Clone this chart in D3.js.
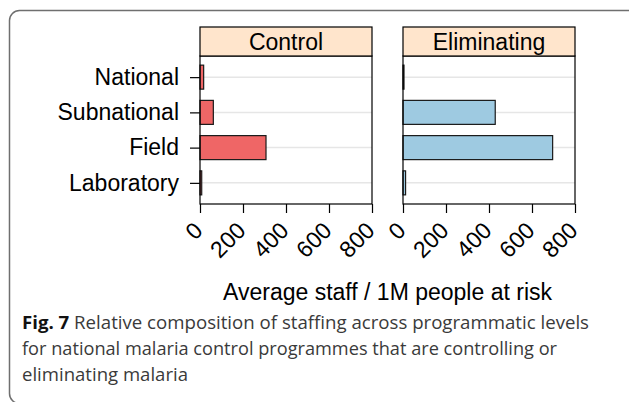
<!DOCTYPE html>
<html>
<head>
<meta charset="utf-8">
<script src="https://cdn.jsdelivr.net/npm/d3@7"></script>
<style>
  body { margin: 0; background: #fff; }
  svg { display: block; }
</style>
</head>
<body>
<script>
var width = 629;
var height = 402;

// data
var panels = ['Control', 'Eliminating'];
var levels = ['National', 'Subnational', 'Field', 'Laboratory'];
var controlValues = [17, 62, 307, 8];
var eliminatingValues = [3, 429, 696, 12];
var xTicks = [0, 200, 400, 600, 800];
var panelColors = ['#ef6666', '#9ecae1'];
var axisTitle = 'Average staff / 1M people at risk';
var captionBold = 'Fig. 7';
var captionLines = [
  'Relative composition of staffing across programmatic levels',
  'for national malaria control programmes that are controlling or',
  'eliminating malaria'
];

var seriesByPanel = [controlValues, eliminatingValues];

var stripTop = 27, stripBottom = 56, panelBottom = 204;
var font = 'Liberation Sans, Arial, sans-serif';

var svg = d3.select('body').append('svg')
  .attr('width', width)
  .attr('height', height);

// frame round the figure
svg.append('rect')
  .attr('x', 9.5).attr('y', 10.5)
  .attr('width', 700).attr('height', 393)
  .attr('rx', 10).attr('ry', 10)
  .attr('fill', 'none')
  .attr('stroke', '#6f6f6f')
  .attr('stroke-width', 1.5);

var panelScale = d3.scaleBand()
  .domain(panels)
  .range([200, 575])
  .paddingInner(0.1527)
  .paddingOuter(0);

var y = d3.scalePoint()
  .domain(levels)
  .range([stripBottom, panelBottom])
  .padding(0.6);

var barH = 24;

panels.forEach(function(name, p) {
  var x0 = panelScale(name);
  var pw = panelScale.bandwidth();
  var x = d3.scaleLinear().domain([0, 800]).range([x0, x0 + pw]);
  var values = seriesByPanel[p];
  var g = svg.append('g').attr('class', 'panel');

  // grid lines
  g.selectAll('line.grid')
    .data(levels)
    .enter().append('line')
    .attr('class', 'grid')
    .attr('x1', x0).attr('x2', x0 + pw)
    .attr('y1', function(d) { return y(d); })
    .attr('y2', function(d) { return y(d); })
    .attr('stroke', '#e6e6e6')
    .attr('stroke-width', 1.5);

  // bars
  g.selectAll('rect.bar')
    .data(values)
    .enter().append('rect')
    .attr('class', 'bar')
    .attr('x', x(0))
    .attr('y', function(d, i) { return y(levels[i]) - barH / 2; })
    .attr('width', function(d) { return Math.max(x(d) - x(0), 1); })
    .attr('height', barH)
    .attr('fill', panelColors[p])
    .attr('stroke', '#1a1a1a')
    .attr('stroke-width', 1.2);

  // panel box
  g.append('rect')
    .attr('x', x0).attr('y', stripBottom)
    .attr('width', pw).attr('height', panelBottom - stripBottom)
    .attr('fill', 'none')
    .attr('stroke', '#000')
    .attr('stroke-width', 1.2);

  // strip
  g.append('rect')
    .attr('x', x0).attr('y', stripTop)
    .attr('width', pw).attr('height', stripBottom - stripTop)
    .attr('fill', '#ffe5cc')
    .attr('stroke', '#000')
    .attr('stroke-width', 1.2);
  g.append('text')
    .attr('x', x0 + pw / 2)
    .attr('y', stripBottom - 6)
    .attr('text-anchor', 'middle')
    .attr('font-family', font)
    .attr('font-size', '23px')
    .attr('fill', '#000')
    .text(name);

  // bottom axis
  var xAxis = d3.axisBottom(x).tickValues(xTicks).tickSize(9).tickFormat('');
  var ax = g.append('g')
    .attr('transform', 'translate(0,' + panelBottom + ')')
    .call(xAxis);
  ax.select('.domain').remove();
  ax.selectAll('.tick line').attr('stroke', '#000').attr('stroke-width', 1.2);

  g.selectAll('text.tick-label')
    .data(xTicks)
    .enter().append('text')
    .attr('class', 'tick-label')
    .attr('transform', function(d) { return 'translate(' + (x(d) + 4) + ',232) rotate(-45)'; })
    .attr('text-anchor', 'end')
    .attr('font-family', font)
    .attr('font-size', '23px')
    .attr('fill', '#000')
    .text(function(d) { return d; });

  // left axis only on first panel
  if (p === 0) {
    var yAxis = d3.axisLeft(y).tickSize(10).tickPadding(11);
    var ay = g.append('g')
      .attr('transform', 'translate(' + x0 + ',0)')
      .call(yAxis);
    ay.select('.domain').remove();
    ay.selectAll('.tick line').attr('stroke', '#000').attr('stroke-width', 1.2);
    ay.selectAll('.tick text')
      .attr('font-family', font)
      .attr('font-size', '23px')
      .attr('fill', '#000');
  }
});

// axis title
svg.append('text')
  .attr('x', (200 + 575) / 2)
  .attr('y', 300)
  .attr('text-anchor', 'middle')
  .attr('font-family', font)
  .attr('font-size', '23px')
  .attr('fill', '#000')
  .text(axisTitle);

// caption
var cap = svg.append('g')
  .attr('font-family', 'Open Sans, sans-serif')
  .attr('font-size', '17.5px');

var line1 = cap.append('text')
  .attr('x', 22).attr('y', 329)
  .attr('textLength', 567)
  .attr('lengthAdjust', 'spacingAndGlyphs');
line1.append('tspan')
  .attr('font-weight', 'bold')
  .attr('fill', '#111')
  .text(captionBold + '   ');
line1.append('tspan')
  .attr('fill', '#3a3a3a')
  .text(captionLines[0]);

cap.append('text')
  .attr('x', 22).attr('y', 355)
  .attr('textLength', 535)
  .attr('lengthAdjust', 'spacingAndGlyphs')
  .attr('fill', '#3a3a3a')
  .text(captionLines[1]);

cap.append('text')
  .attr('x', 22).attr('y', 381)
  .attr('textLength', 166)
  .attr('lengthAdjust', 'spacingAndGlyphs')
  .attr('fill', '#3a3a3a')
  .text(captionLines[2]);
</script>
</body>
</html>
